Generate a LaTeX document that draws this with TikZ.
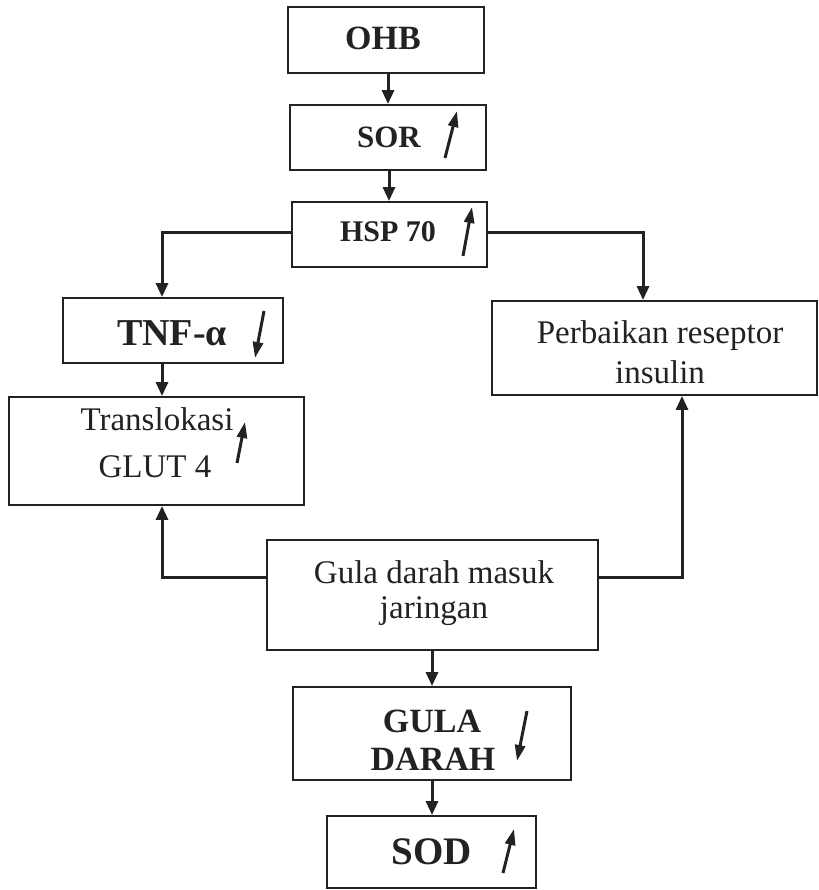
\documentclass[tikz,border=0pt]{standalone}
\usepackage{fontspec}
\setmainfont{Liberation Serif}
\usetikzlibrary{arrows.meta}
\definecolor{ink}{HTML}{222222}
\tikzset{
  box/.style={draw=ink, line width=1.9pt, rectangle, inner sep=0pt, fill=white},
  conn/.style={draw=ink, line width=3pt, -{Triangle[length=14pt,width=12pt]}},
  trend/.style={draw=ink, line width=3pt, -{Triangle[length=16pt,width=10pt]}},
  txt/.style={anchor=base, inner sep=0pt, text=ink, font=\fontsize{33}{40}\selectfont},
  btxt/.style={anchor=base, inner sep=0pt, text=ink, font=\fontsize{#1}{#1}\selectfont\bfseries},
}
\newcommand{\mkbox}[5]{\node[box, minimum width={(#4-#2)*1pt}, minimum height={(#5-#3)*1pt}] (#1) at ({(#2+#4)/2},{(#3+#5)/2}) {};}
\begin{document}
\begin{tikzpicture}[x=1pt,y=-1pt]
\useasboundingbox[fill=white] (0,0) rectangle (818,890);
% boxes
\mkbox{ohb}{288}{7}{484}{73}
\mkbox{sor}{290}{105}{486}{170}
\mkbox{hsp}{292}{202}{487}{267}
\mkbox{tnf}{63}{298}{283}{363}
\mkbox{perb}{492}{301}{817}{395}
\mkbox{glut}{9}{397}{304}{505}
\mkbox{gula}{267}{540}{598}{650}
\mkbox{gd}{293}{687}{571}{780}
\mkbox{sod}{327}{816}{536}{888}
% texts
\node[btxt=34] (tohb) at (383,50) {OHB};
\node[btxt=31] (tsor) at (389,148) {SOR};
\node[btxt=30] (thsp) at (388,242) {HSP 70};
\node[btxt=38] (ttnf) at (172,345) {TNF-α};
\node[txt] (tgl1) at (157,430) {Translokasi};
\node[txt] (tgl2) at (155,477) {GLUT 4};
\node[txt] (tpe1) at (660,343) {Perbaikan reseptor};
\node[txt] (tpe2) at (660,383) {insulin};
\node[txt] (tgu1) at (434,583) {Gula darah masuk};
\node[txt] (tgu2) at (434,618) {jaringan};
\node[btxt=34] (tgd1) at (432,732) {GULA};
\node[btxt=34] (tgd2) at (433,770) {DARAH};
\node[btxt=39] (tsod) at (432,864) {SOD};
% trend arrows
\draw[trend] (445,158) -- (457,111);
\draw[trend] (463,256) -- (472,207);
\draw[trend] (264,311) -- (255,358);
\draw[trend] (237,463) -- (245,422);
\draw[trend] (527,711) -- (517,761);
\draw[trend] (503,873) -- (514,829);
% connectors
\draw[conn] (ohb.south -| 388,0) -- (sor.north -| 388,0);
\draw[conn] (sor.south -| 389,0) -- (hsp.north -| 389,0);
\draw[conn] (hsp.west |- 0,233) -| (tnf.north -| 162,0);
\draw[conn] (hsp.east |- 0,233) -| (perb.north -| 643,0);
\draw[conn] (tnf.south -| 162,0) -- (glut.north -| 162,0);
\draw[conn] (gula.west |- 0,577) -| (glut.south -| 162,0);
\draw[conn] (gula.east |- 0,577) -| (perb.south -| 682,0);
\draw[conn] (gula.south -| 432,0) -- (gd.north -| 432,0);
\draw[conn] (gd.south -| 432,0) -- (sod.north -| 432,0);
\end{tikzpicture}
\end{document}
